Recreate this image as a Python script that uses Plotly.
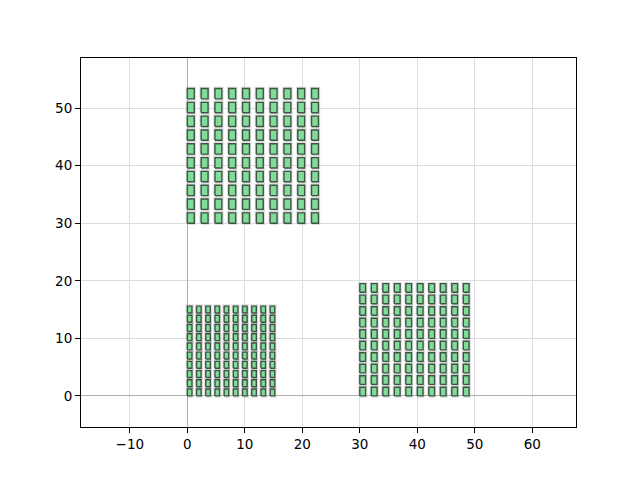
import plotly.graph_objects as go

# three 10x10 blocks of the same cell pattern, each shifted and scaled
group_x = [0, 30, 0]
group_y = [0, 0, 30]
group_scale = [1.0, 1.25, 1.5]
n_cols = 10
n_rows = 10
cell_w = 0.8
cell_h = 1.2
pitch = 1.6

x_ticks = [-10, 0, 10, 20, 30, 40, 50, 60]
y_ticks = [0, 10, 20, 30, 40, 50]


def minus(v):
    return str(v).replace('-', '\u2212')


xs, ys = [], []
for ox, oy, s in zip(group_x, group_y, group_scale):
    for i in range(n_cols):
        for j in range(n_rows):
            x0 = ox + s * i * pitch
            y0 = oy + s * j * pitch
            x1 = x0 + s * cell_w
            y1 = y0 + s * cell_h
            xs += [x0, x1, x1, x0, x0, None]
            ys += [y0, y0, y1, y1, y0, None]

fig = go.Figure()

# soft grey halo under each cell
fig.add_trace(go.Scatter(
    x=xs, y=ys, mode='lines',
    line=dict(color='rgba(150,150,150,0.3)', width=3.5),
    hoverinfo='skip', showlegend=False,
))
fig.add_trace(go.Scatter(
    x=xs, y=ys, mode='lines', fill='toself',
    fillcolor='#80dc98',
    line=dict(color='#3e5545', width=1.4),
    hoverinfo='skip', showlegend=False,
))

fig.update_layout(
    width=640, height=480,
    margin=dict(l=73, r=72, t=50, b=61),
    plot_bgcolor='white', paper_bgcolor='white',
    font=dict(family='DejaVu Sans', size=13.5, color='black'),
    xaxis=dict(
        range=[-18.5, 67.6],
        tickvals=x_ticks, ticktext=[minus(v) for v in x_ticks],
        showgrid=True, gridcolor='#dedede', gridwidth=0.8,
        zeroline=True, zerolinecolor='#b0b0b0', zerolinewidth=1.2,
        showline=True, linecolor='black', linewidth=1, mirror=True,
        ticks='outside', ticklen=5, tickcolor='black',
    ),
    yaxis=dict(
        range=[-5.4, 58.7],
        tickvals=y_ticks, ticktext=[minus(v) for v in y_ticks],
        showgrid=True, gridcolor='#dedede', gridwidth=0.8,
        zeroline=True, zerolinecolor='#b0b0b0', zerolinewidth=1.2,
        showline=True, linecolor='black', linewidth=1, mirror=True,
        ticks='outside', ticklen=5, tickcolor='black',
    ),
)

fig.write_html("out.html")
